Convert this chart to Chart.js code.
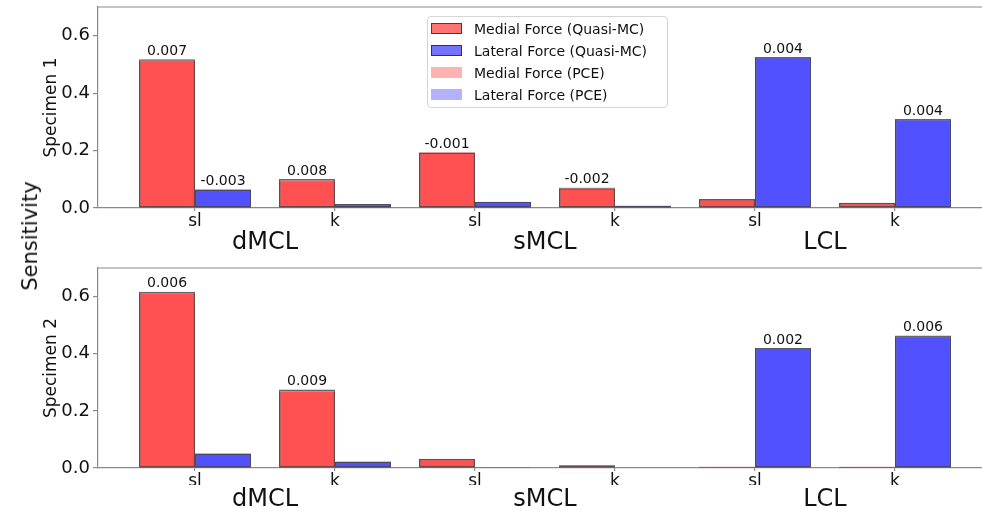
<!DOCTYPE html>
<html>
<head>
<meta charset="utf-8">
<script src="https://cdn.jsdelivr.net/npm/chart.js@4.4.1/dist/chart.umd.min.js"></script>
<style>
html,body{margin:0;padding:0;background:#fff;overflow:hidden;}
#wrap{position:relative;width:982px;height:512px;overflow:hidden;font-family:"DejaVu Sans",sans-serif;background:#fff;}
canvas{position:absolute;left:0;}
#c1{top:0;}
#c2{top:256px;}
#ylab{position:absolute;left:30px;top:236px;transform:translate(-50%,-50%) rotate(-90deg);font-size:21px;white-space:nowrap;color:#111;}
#legend{position:absolute;left:427px;top:16px;width:241px;height:92px;box-sizing:border-box;border:1px solid #d4d4d4;border-radius:4px;background:rgba(255,255,255,0.85);}
.li{position:absolute;left:0;height:22px;width:100%;}
.sw{position:absolute;left:3px;top:5px;width:31px;height:11px;box-sizing:border-box;}
.lt{position:absolute;left:46px;top:1px;font-size:14px;line-height:20px;color:#111;white-space:nowrap;}
</style>
</head>
<body>
<div id="wrap">
  <canvas id="c1" width="1000" height="256"></canvas>
  <canvas id="c2" width="1000" height="256"></canvas>
  <div id="ylab">Sensitivity</div>
  <div id="legend"></div>
</div>
<script>
// ---- data ----
const xPos = [0, 1, 2, 3, 4, 5];
const xLabels = ['sl', 'k', 'sl', 'k', 'sl', 'k'];
const groupPos = [0.5, 2.5, 4.5];
const groups = ['dMCL', 'sMCL', 'LCL'];
const yTicks = [0, 0.2, 0.4, 0.6];
const seriesNames = ['Medial Force (Quasi-MC)', 'Lateral Force (Quasi-MC)', 'Medial Force (PCE)', 'Lateral Force (PCE)'];

// Specimen 1
const med1  = [0.518, 0.101, 0.193, 0.069, 0.031, 0.018];
const lat1  = [0.063, 0.014, 0.022, 0.008, 0.526, 0.310];
const medP1 = [0.511, 0.093, 0.194, 0.071, 0.030, 0.017];
const latP1 = [0.066, 0.013, 0.021, 0.008, 0.522, 0.306];
const annMed1 = ['0.007', '0.008', '-0.001', '-0.002', null, null];
const annLat1 = ['-0.003', null, null, null, '0.004', '0.004'];

// Specimen 2
const med2  = [0.617, 0.275, 0.032, 0.010, 0.004, 0.004];
const lat2  = [0.051, 0.023, 0.003, 0.002, 0.420, 0.464];
const medP2 = [0.611, 0.266, 0.031, 0.010, 0.004, 0.004];
const latP2 = [0.051, 0.022, 0.003, 0.002, 0.418, 0.458];
const annMed2 = ['0.006', '0.009', null, null, null, null];
const annLat2 = [null, null, null, null, '0.002', '0.006'];

// ---- style ----
const FONT = '"DejaVu Sans", sans-serif';
const RED_Q = 'rgba(255,0,0,0.55)';
const BLUE_Q = 'rgba(0,0,255,0.55)';
const RED_P = 'rgba(255,0,0,0.3)';
const BLUE_P = 'rgba(0,0,255,0.3)';
const EDGE = 'rgba(0,0,0,0.6)';
const AX = '#8a8a8a';
const TXT = '#111';
const xMin = -0.693, xMax = 5.693;

Chart.defaults.font.family = FONT;

const frame = {
  id: 'frame',
  afterDraw(chart) {
    const {ctx, chartArea: a} = chart;
    ctx.save();
    ctx.strokeStyle = AX;
    ctx.lineWidth = 1.2;
    ctx.beginPath();
    ctx.moveTo(a.left, a.top);
    ctx.lineTo(a.right, a.top);
    ctx.stroke();
    ctx.restore();
  }
};

function makeAnnot(sets) {
  return {
    id: 'annot',
    afterDatasetsDraw(chart) {
      const ctx = chart.ctx;
      ctx.save();
      ctx.font = '14px ' + FONT;
      ctx.fillStyle = TXT;
      ctx.textAlign = 'center';
      ctx.textBaseline = 'bottom';
      sets.forEach(([qIdx, pIdx, labels]) => {
        const mq = chart.getDatasetMeta(qIdx);
        const mp = chart.getDatasetMeta(pIdx);
        labels.forEach((t, i) => {
          if (t == null) return;
          const el = mq.data[i];
          const top = Math.min(el.y, mp.data[i].y);
          ctx.fillText(t, el.x, top - 1);
        });
      });
      ctx.restore();
    }
  };
}

function pts(arr) { return xPos.map((x, i) => ({x: x, y: arr[i]})); }

function makeChart(id, med, lat, medP, latP, annMed, annLat, title, padTop, xH, xgH) {
  return new Chart(document.getElementById(id), {
    type: 'bar',
    data: {
      datasets: [
        {label: seriesNames[0], data: pts(med), stack: 'm', xAxisID: 'x', yAxisID: 'y',
         backgroundColor: RED_Q, borderColor: EDGE, borderWidth: 1.5, borderSkipped: false, order: 0},
        {label: seriesNames[1], data: pts(lat), stack: 'l', xAxisID: 'x', yAxisID: 'y',
         backgroundColor: BLUE_Q, borderColor: EDGE, borderWidth: 1.5, borderSkipped: false, order: 0},
        {label: seriesNames[2], data: pts(medP), stack: 'm', xAxisID: 'x', yAxisID: 'y',
         backgroundColor: RED_P, borderWidth: 0, order: 1},
        {label: seriesNames[3], data: pts(latP), stack: 'l', xAxisID: 'x', yAxisID: 'y',
         backgroundColor: BLUE_P, borderWidth: 0, order: 1}
      ]
    },
    options: {
      responsive: false,
      animation: false,
      events: [],
      layout: {padding: {top: padTop, right: 8, left: 0, bottom: 0}},
      datasets: {bar: {categoryPercentage: 0.8, barPercentage: 1.0, grouped: true}},
      plugins: {legend: {display: false}, tooltip: {enabled: false}},
      scales: {
        x: {
          type: 'linear', min: xMin, max: xMax, position: 'bottom', weight: 0, offset: false,
          afterBuildTicks: s => { s.ticks = xPos.map(v => ({value: v})); },
          afterFit: s => { s.height = xH; s.paddingLeft = 0; s.paddingRight = 0; },
          ticks: {callback: (v, i) => xLabels[i], font: {size: 17}, color: TXT, padding: 0,
                  autoSkip: false, maxRotation: 0, minRotation: 0},
          grid: {drawOnChartArea: false, drawTicks: true, tickLength: 3, color: AX, offset: false, lineWidth: 1.2},
          border: {display: true, color: AX, width: 1.2}
        },
        xg: {
          type: 'linear', min: xMin, max: xMax, position: 'bottom', weight: 1, offset: false,
          afterBuildTicks: s => { s.ticks = groupPos.map(v => ({value: v})); },
          afterFit: s => { s.height = xgH; s.paddingLeft = 0; s.paddingRight = 0; },
          ticks: {callback: (v, i) => groups[i], font: {size: 24}, color: TXT, padding: 0,
                  autoSkip: false, maxRotation: 0, minRotation: 0},
          grid: {display: false, drawTicks: false, offset: false},
          border: {display: false}
        },
        y: {
          type: 'linear', min: 0, max: 0.7, stacked: false, position: 'left',
          afterBuildTicks: s => { s.ticks = yTicks.map(v => ({value: v})); },
          afterFit: s => { s.width = 98; s.paddingTop = 0; s.paddingBottom = 0; },
          ticks: {callback: v => v.toFixed(1), font: {size: 18}, color: TXT, padding: 3},
          grid: {drawOnChartArea: false, drawTicks: true, tickLength: 5, color: AX, lineWidth: 1.2},
          border: {display: true, color: AX, width: 1.2},
          title: {display: true, text: title, font: {size: 17}, color: TXT, padding: {top: 41, bottom: 0}}
        }
      }
    },
    plugins: [frame, makeAnnot([[0, 2, annMed], [1, 3, annLat]])]
  });
}

const ch1 = makeChart('c1', med1, lat1, medP1, latP1, annMed1, annLat1, 'Specimen 1', 7, 20, 28);
const ch2 = makeChart('c2', med2, lat2, medP2, latP2, annMed2, annLat2, 'Specimen 2', 12, 17, 27);

// legend from dataset definitions
const leg = document.getElementById('legend');
ch1.data.datasets.forEach((ds, i) => {
  const row = document.createElement('div');
  row.className = 'li';
  row.style.top = (i * 22 + 1) + 'px';
  const sw = document.createElement('div');
  sw.className = 'sw';
  sw.style.background = ds.backgroundColor;
  if (ds.borderWidth) sw.style.border = '1.5px solid ' + ds.borderColor;
  const t = document.createElement('div');
  t.className = 'lt';
  t.textContent = ds.label;
  row.appendChild(sw);
  row.appendChild(t);
  leg.appendChild(row);
});
</script>
</body>
</html>
